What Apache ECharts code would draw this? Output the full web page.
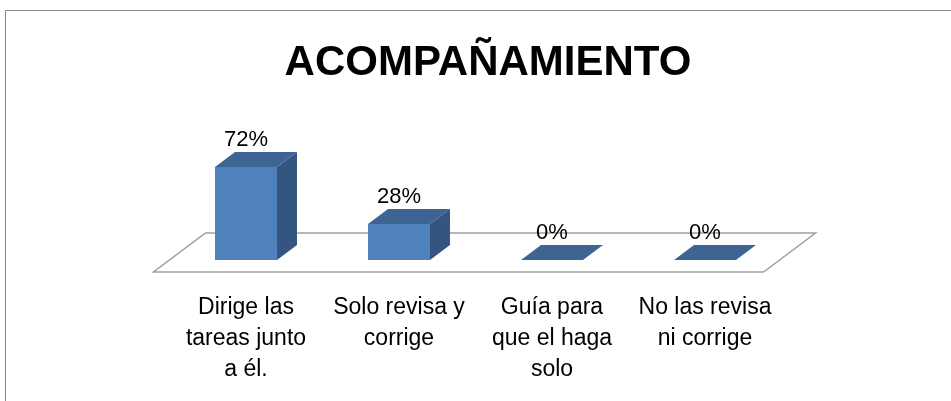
<!DOCTYPE html>
<html>
<head>
	<meta charset="utf-8" />
	<script src="https://cdn.jsdelivr.net/npm/echarts@6/dist/echarts.min.js"></script>
</head>
<body style="margin:0; background:#ffffff">
	<div id="main" style="width:951px; height:401px;"></div>
</body>
<script type="text/javascript">
	var titleText = 'ACOMPAÑAMIENTO';
	var categories = ['Dirige las\ntareas junto\na él.', 'Solo revisa y\ncorrige', 'Guía para\nque el haga\nsolo', 'No las revisa\nni corrige'];
	var percents = [72, 28, 0, 0];

	// depth offsets for the fake 3D look
	var barDx = 20, barDy = -15;
	var floorFront = [-16, 12], floorBack = [36, -27];

	var myChart = echarts.init(document.getElementById('main'));

	function renderBar(params, api) {
		var v = api.value(1);
		var top = api.coord([api.value(0), v]);
		var base = api.coord([api.value(0), 0]);
		var w = api.size([1, 0])[0] * 0.405;
		var x0 = top[0] - w / 2, x1 = top[0] + w / 2;
		var children = [];
		if (base[1] - top[1] > 0.5) {
			children.push({
				type: 'rect',
				shape: { x: x0, y: top[1], width: w, height: base[1] - top[1] },
				style: { fill: '#4f81bd' }
			});
			children.push({
				type: 'polygon',
				shape: { points: [[x1, top[1]], [x1 + barDx, top[1] + barDy], [x1 + barDx, base[1] + barDy], [x1, base[1]]] },
				style: { fill: '#34557f' }
			});
		}
		children.push({
			type: 'polygon',
			shape: { points: [[x0, top[1]], [x1, top[1]], [x1 + barDx, top[1] + barDy], [x0 + barDx, top[1] + barDy]] },
			style: { fill: '#3d6493' }
		});
		children.push({
			type: 'text',
			style: {
				text: v + '%',
				x: top[0],
				y: top[1] + barDy - 1,
				align: 'center',
				verticalAlign: 'bottom',
				fontFamily: 'Liberation Sans',
				fontSize: 22,
				fill: '#000000'
			}
		});
		return { type: 'group', children: children };
	}

	function renderFloor(params, api) {
		var band = api.size([1, 0])[0];
		var l = api.coord([0, 0]);
		var r = api.coord([categories.length - 1, 0]);
		var xl = l[0] - band / 2, xr = r[0] + band / 2, y = l[1];
		return {
			type: 'polygon',
			shape: {
				points: [
					[xl + floorFront[0], y + floorFront[1]],
					[xr + floorFront[0] - 2, y + floorFront[1]],
					[xr + floorBack[0] - 2, y + floorBack[1]],
					[xl + floorBack[0], y + floorBack[1]]
				]
			},
			style: { fill: '#ffffff', stroke: '#a0a0a0', lineWidth: 1.5 }
		};
	}

	var option = {
		backgroundColor: '#ffffff',
		animation: false,
		graphic: [
			{
				type: 'rect',
				shape: { x: 5.5, y: 10.5, width: 1000, height: 500 },
				style: { fill: 'none', stroke: '#868686', lineWidth: 1 },
				z: -10
			},
			{
				type: 'text',
				x: 488,
				y: 63,
				style: {
					text: titleText,
					align: 'center',
					verticalAlign: 'middle',
					fontFamily: 'Liberation Sans',
					fontWeight: 'bold',
					fontSize: 42,
					fill: '#000000'
				}
			}
		],
		grid: { left: 169.5, top: 131, width: 612, height: 129 },
		xAxis: {
			type: 'category',
			data: categories,
			axisLine: { show: false },
			axisTick: { show: false },
			axisLabel: {
				interval: 0,
				margin: 32,
				color: '#000000',
				fontFamily: 'Liberation Sans',
				fontSize: 23,
				lineHeight: 31,
				align: 'center'
			}
		},
		yAxis: {
			type: 'value',
			min: 0,
			max: 100,
			show: false
		},
		series: [
			{
				type: 'custom',
				renderItem: renderFloor,
				data: [[0, 0]],
				z: 1,
				silent: true
			},
			{
				type: 'custom',
				renderItem: renderBar,
				data: percents.map(function (p, i) { return [i, p]; }),
				z: 2
			}
		]
	};

	myChart.setOption(option);
</script>
</html>
